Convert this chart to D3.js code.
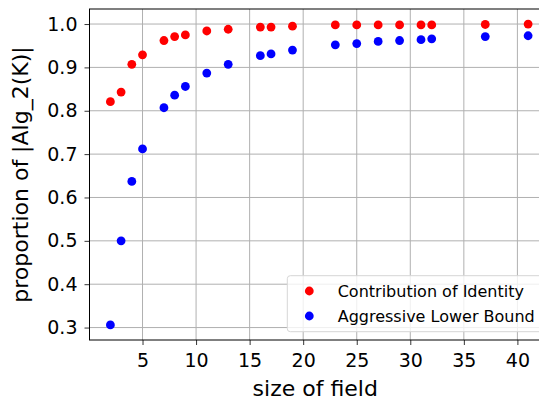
<!DOCTYPE html>
<html>
<head>
<meta charset="utf-8">
<script src="https://cdn.jsdelivr.net/npm/d3@7"></script>
<style>
  body { margin: 0; background: #fff; }
  svg { display: block; font-family: "DejaVu Sans", sans-serif; }
</style>
</head>
<body>
<div class="container"></div>
<script>
// field sizes
var fieldSizes = [2, 3, 4, 5, 7, 8, 9, 11, 13, 16, 17, 19, 23, 25, 27, 29, 31, 32, 37, 41];
// Contribution of Identity (red)
var identityVals = [0.821, 0.843, 0.907, 0.929, 0.962, 0.971, 0.975, 0.984, 0.988, 0.993,
                    0.993, 0.995, 0.998, 0.998, 0.998, 0.998, 0.998, 0.998, 0.999, 1.0];
// Aggressive Lower Bound (blue)
var lowerVals = [0.306, 0.500, 0.637, 0.712, 0.807, 0.836, 0.856, 0.887, 0.907, 0.927,
                 0.931, 0.940, 0.952, 0.955, 0.960, 0.962, 0.964, 0.966, 0.971, 0.973];
var xTicks = [5, 10, 15, 20, 25, 30, 35, 40];
var yTicks = [0.3, 0.4, 0.5, 0.6, 0.7, 0.8, 0.9, 1.0];
var seriesNames = ["Contribution of Identity", "Aggressive Lower Bound"];
var seriesColors = ["#ff0000", "#0000ff"];

var W = 539, H = 402;
var margin = {left: 89.5, top: 9, right: 549, bottom: 340};

var svg = d3.select(".container")
  .append("svg")
    .attr("width", W)
    .attr("height", H);

// matplotlib-style 5% margins
var xmin = d3.min(fieldSizes), xmax = d3.max(fieldSizes);
var ymin = d3.min(lowerVals), ymax = d3.max(identityVals);
var xpad = (xmax - xmin) * 0.05, ypad = (ymax - ymin) * 0.05;

var x = d3.scaleLinear()
  .domain([xmin - xpad, xmax + xpad])
  .range([margin.left, margin.right]);
var y = d3.scaleLinear()
  .domain([ymin - ypad, ymax + ypad])
  .range([margin.bottom, margin.top]);

// grid
svg.append("g")
  .selectAll("line")
  .data(xTicks)
  .enter()
  .append("line")
    .attr("x1", function(d) { return x(d); })
    .attr("x2", function(d) { return x(d); })
    .attr("y1", margin.top)
    .attr("y2", margin.bottom)
    .attr("stroke", "#b0b0b0")
    .attr("stroke-width", 1);
svg.append("g")
  .selectAll("line")
  .data(yTicks)
  .enter()
  .append("line")
    .attr("x1", margin.left)
    .attr("x2", margin.right)
    .attr("y1", function(d) { return y(d); })
    .attr("y2", function(d) { return y(d); })
    .attr("stroke", "#b0b0b0")
    .attr("stroke-width", 1);

// axes
var xAxis = svg.append("g")
  .attr("transform", "translate(0," + margin.bottom + ")")
  .call(d3.axisBottom(x).tickValues(xTicks).tickSize(5).tickPadding(8.5).tickSizeOuter(0));
var yAxis = svg.append("g")
  .attr("transform", "translate(" + margin.left + ",0)")
  .call(d3.axisLeft(y).tickValues(yTicks).tickSize(5).tickPadding(7).tickSizeOuter(0)
        .tickFormat(d3.format(".1f")));
[xAxis, yAxis].forEach(function(a) {
  a.selectAll("text").attr("font-size", 19).attr("fill", "#000")
    .attr("font-family", "DejaVu Sans, sans-serif");
  a.selectAll("line").attr("stroke", "#000").attr("stroke-width", 0.8);
  a.select(".domain").remove();
});

// spines
svg.append("rect")
  .attr("x", margin.left)
  .attr("y", margin.top)
  .attr("width", margin.right - margin.left)
  .attr("height", margin.bottom - margin.top)
  .attr("fill", "none")
  .attr("stroke", "#000")
  .attr("stroke-width", 1);

// points
var series = [identityVals, lowerVals];
series.forEach(function(vals, s) {
  svg.append("g")
    .selectAll("circle")
    .data(vals)
    .enter()
    .append("circle")
      .attr("cx", function(d, i) { return x(fieldSizes[i]); })
      .attr("cy", function(d) { return y(d); })
      .attr("r", 4.4)
      .attr("fill", seriesColors[s]);
});

// axis labels
svg.append("text")
  .attr("x", (margin.left + margin.right) / 2 - 4)
  .attr("y", 396)
  .attr("text-anchor", "middle")
  .attr("font-size", 22)
  .text("size of field");
svg.append("text")
  .attr("transform", "translate(28," + ((margin.top + margin.bottom) / 2) + ") rotate(-90)")
  .attr("text-anchor", "middle")
  .attr("font-size", 22)
  .text("proportion of |Alg_2(K)|");

// legend
var legend = svg.append("g");
legend.append("rect")
  .attr("x", 287.3)
  .attr("y", 275.7)
  .attr("width", 270)
  .attr("height", 56)
  .attr("rx", 3)
  .attr("fill", "#fff")
  .attr("fill-opacity", 0.8)
  .attr("stroke", "#d6d6d6")
  .attr("stroke-width", 1);
legend.selectAll("circle")
  .data(seriesNames)
  .enter()
  .append("circle")
    .attr("cx", 309.3)
    .attr("cy", function(d, i) { return 291 + i * 25; })
    .attr("r", 4.4)
    .attr("fill", function(d, i) { return seriesColors[i]; });
legend.selectAll("text")
  .data(seriesNames)
  .enter()
  .append("text")
    .attr("x", 337.7)
    .attr("y", function(d, i) { return 291 + i * 25 + 5.8; })
    .attr("font-size", 16)
    .attr("fill", "#000")
    .text(function(d) { return d; });
</script>
</body>
</html>
